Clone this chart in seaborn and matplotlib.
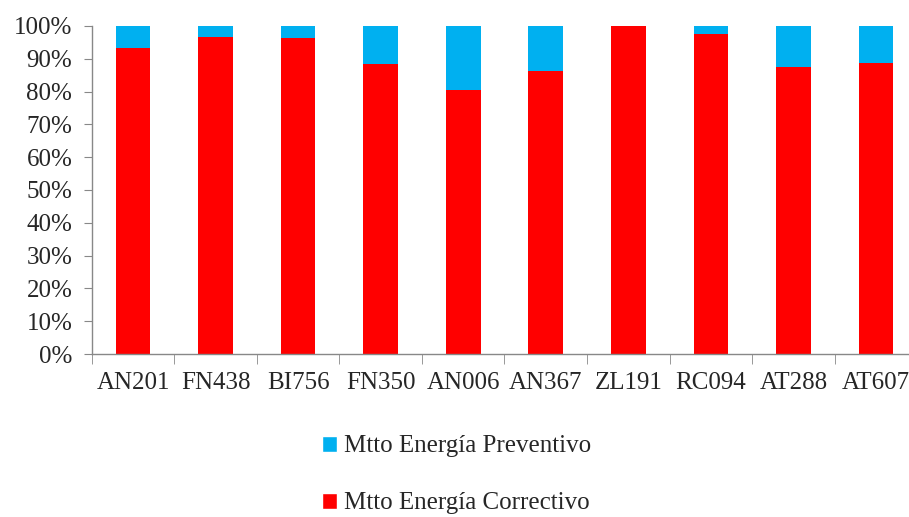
import numpy as np
import pandas as pd
import matplotlib
matplotlib.use('Agg')
import matplotlib.pyplot as plt
import seaborn as sns
from matplotlib.patches import Patch
from matplotlib.ticker import PercentFormatter, FixedLocator

equipos = ['AN201', 'FN438', 'BI756', 'FN350', 'AN006',
           'AN367', 'ZL191', 'RC094', 'AT288', 'AT607']
correctivo = [93.2, 96.7, 96.4, 88.4, 80.4, 86.2, 100.0, 97.5, 87.5, 88.8]
preventivo = [100 - c for c in correctivo]

label_prev = 'Mtto Energía Preventivo'
label_corr = 'Mtto Energía Correctivo'
color_prev = '#00B0F0'
color_corr = '#FF0000'

data = pd.DataFrame({'Equipo': equipos,
                     'Correctivo': correctivo,
                     'Preventivo': preventivo})
data['Total'] = data['Correctivo'] + data['Preventivo']

sns.set_style('white')
plt.rcParams['font.family'] = ['Liberation Serif', 'DejaVu Serif']

fig = plt.figure(figsize=(9.09, 5.17), dpi=100)
ax = fig.add_axes([0.101, 0.315, 0.908, 0.635])

# stacked 100%: full bar in cyan, correctivo drawn over it in red
sns.barplot(data=data, x='Equipo', y='Total', color=color_prev,
            width=0.42, saturation=1, linewidth=0, ax=ax)
sns.barplot(data=data, x='Equipo', y='Correctivo', color=color_corr,
            width=0.42, saturation=1, linewidth=0, ax=ax)

ax.set_ylim(0, 100)
ax.set_xlim(-0.5, len(equipos) - 0.5)
ax.yaxis.set_major_locator(FixedLocator(np.arange(0, 101, 10)))
ax.yaxis.set_major_formatter(PercentFormatter(decimals=0))
ax.set_xlabel('')
ax.set_ylabel('')

for s in ['top', 'right']:
    ax.spines[s].set_visible(False)
for s in ['left', 'bottom']:
    ax.spines[s].set_color('#888888')
    ax.spines[s].set_linewidth(1.0)

ax.tick_params(axis='y', which='major', length=6, color='#888888',
               direction='out', left=True, labelsize=18, pad=8)
ax.tick_params(axis='x', which='major', length=0, labelsize=18, pad=13)
ax.set_xticks(np.arange(-0.5, len(equipos), 1.0), minor=True)
ax.tick_params(axis='x', which='minor', length=7, color='#888888',
               direction='out', bottom=True)

handles = [Patch(facecolor=color_prev, label=label_prev),
           Patch(facecolor=color_corr, label=label_corr)]
fig.legend(handles=handles, loc='upper left', bbox_to_anchor=(0.343, 0.177),
           frameon=False, fontsize=18, handlelength=0.6, handleheight=0.6,
           handletextpad=0.3, labelspacing=1.4, borderaxespad=0)

fig.savefig('out.png', dpi=100)
